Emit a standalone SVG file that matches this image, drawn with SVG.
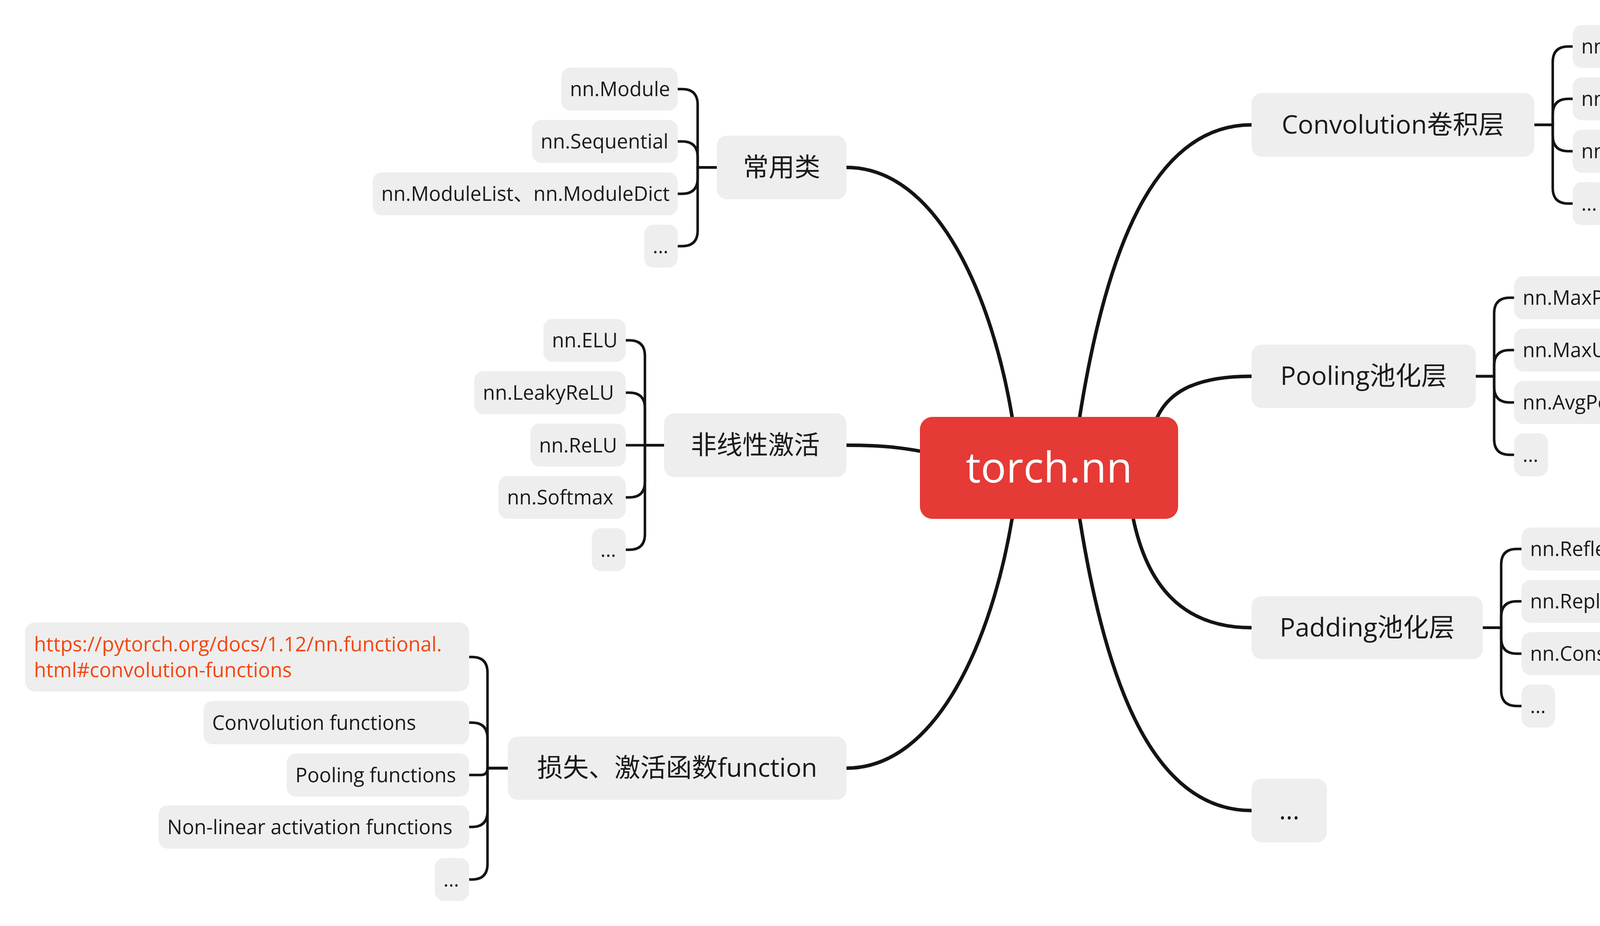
<svg xmlns="http://www.w3.org/2000/svg" width="5263" height="2370" viewBox="0 0 5263 2370">
<style>
text{font-family:"Open Sans","Noto Sans CJK SC","Noto Sans",sans-serif;fill:#1a1a1a}
.leaf rect,.main rect{fill:#eeeeee}
.leaf text{font-size:51px}
.main text{font-size:66px;text-anchor:middle}
.center rect{fill:#e53a36}
.center text{font-size:108px;fill:#ffffff;text-anchor:middle}
.link text{fill:#f4450f}
#connectors path{fill:none;stroke:#141414;stroke-linejoin:round}
#connectors .m{stroke-width:9}
#connectors .s{stroke-width:6.5}
</style>
<rect width="5263" height="2370" fill="#ffffff"/>
<g id="connectors">
<path class="m" d="M2167 428.5C2400 428.5 2540 760 2591 1067L2605 1150"/>
<path class="m" d="M2167 1139.5C2260 1139.5 2320 1145 2420 1168"/>
<path class="m" d="M2167 1966C2400 1966 2540 1634 2591 1327L2605 1250"/>
<path class="m" d="M3204 319.5C2950 319.5 2830 650 2764 1067L2755 1150"/>
<path class="m" d="M3204 963C3050 963 2990 1010 2963 1067L2940 1120"/>
<path class="m" d="M3204 1606.5C3020 1606.5 2935 1490 2901 1327L2890 1270"/>
<path class="m" d="M3204 2074.5C2950 2074.5 2830 1744 2764 1327L2755 1250"/>
<path class="s" d="M1835 428.5H1786V268Q1786 228 1746 228H1735"/>
<path class="s" d="M1835 428.5H1786V402Q1786 362 1746 362H1735"/>
<path class="s" d="M1835 428.5H1786V456Q1786 496 1746 496H1735"/>
<path class="s" d="M1835 428.5H1786V590Q1786 630 1746 630H1735"/>
<path class="s" d="M1700 1139.5H1651V911Q1651 871 1611 871H1602"/>
<path class="s" d="M1700 1139.5H1651V1045Q1651 1005 1611 1005H1602"/>
<path class="s" d="M1700 1139.5H1602"/>
<path class="s" d="M1700 1139.5H1651V1233Q1651 1273 1611 1273H1602"/>
<path class="s" d="M1700 1139.5H1651V1367Q1651 1407 1611 1407H1602"/>
<path class="s" d="M1300 1966H1248V1721.5Q1248 1681.5 1208 1681.5H1201"/>
<path class="s" d="M1300 1966H1248V1889.5Q1248 1849.5 1208 1849.5H1201"/>
<path class="s" d="M1300 1966H1248Q1248 1983.5 1230.5 1983.5H1201"/>
<path class="s" d="M1300 1966H1248V2076.5Q1248 2116.5 1208 2116.5H1201"/>
<path class="s" d="M1300 1966H1248V2211Q1248 2251 1208 2251H1201"/>
<path class="s" d="M3928 319.5H3975V159Q3975 119 4015 119H4026"/>
<path class="s" d="M3928 319.5H3975V293Q3975 253 4015 253H4026"/>
<path class="s" d="M3928 319.5H3975V347Q3975 387 4015 387H4026"/>
<path class="s" d="M3928 319.5H3975V481Q3975 521 4015 521H4026"/>
<path class="s" d="M3778 963H3825V802Q3825 762 3865 762H3876"/>
<path class="s" d="M3778 963H3825V936Q3825 896 3865 896H3876"/>
<path class="s" d="M3778 963H3825V990Q3825 1030 3865 1030H3876"/>
<path class="s" d="M3778 963H3825V1124Q3825 1164 3865 1164H3876"/>
<path class="s" d="M3796 1606.5H3843V1445Q3843 1405 3883 1405H3895"/>
<path class="s" d="M3796 1606.5H3843V1579Q3843 1539 3883 1539H3895"/>
<path class="s" d="M3796 1606.5H3843V1633Q3843 1673 3883 1673H3895"/>
<path class="s" d="M3796 1606.5H3843V1767Q3843 1807 3883 1807H3895"/>
</g>
<g id="root" class="center"><rect x="2355" y="1067" width="661" height="261" rx="32"/><text x="2685.5" y="1235">torch.nn</text></g>
<g id="m_common" class="main"><rect x="1835" y="347" width="332" height="163" rx="26"/><text x="2001" y="450.5">常用类</text></g>
<g id="m_act" class="main"><rect x="1700" y="1058" width="467" height="163" rx="26"/><text x="1933.5" y="1161.5">非线性激活</text></g>
<g id="m_func" class="main"><rect x="1300" y="1885" width="867" height="162" rx="26"/><text x="1733.5" y="1988">损失、激活函数function</text></g>
<g id="m_conv" class="main"><rect x="3204" y="238" width="724" height="163" rx="26"/><text x="3566" y="341.5">Convolution卷积层</text></g>
<g id="m_pool" class="main"><rect x="3204" y="882" width="574" height="162" rx="26"/><text x="3491" y="985">Pooling池化层</text></g>
<g id="m_pad" class="main"><rect x="3204" y="1526" width="592" height="161" rx="26"/><text x="3500" y="1628.5">Padding池化层</text></g>
<g id="m_more" class="main"><rect x="3204" y="1993" width="193" height="163" rx="26"/><text x="3300.5" y="2096.5">...</text></g>
<g id="l_module" class="leaf"><rect x="1437" y="173" width="298" height="110" rx="24"/><text x="1459" y="246">nn.Module</text></g>
<g id="l_seq" class="leaf"><rect x="1362" y="307" width="373" height="110" rx="24"/><text x="1384" y="380">nn.Sequential</text></g>
<g id="l_mlist" class="leaf"><rect x="954" y="441" width="781" height="110" rx="24"/><text x="976" y="514">nn.ModuleList、nn.ModuleDict</text></g>
<g id="l_common_more" class="leaf"><rect x="1649" y="575" width="86" height="110" rx="24"/><text x="1671" y="648">...</text></g>
<g id="l_elu" class="leaf"><rect x="1391" y="816" width="211" height="110" rx="24"/><text x="1413" y="889">nn.ELU</text></g>
<g id="l_leaky" class="leaf"><rect x="1214" y="950" width="388" height="110" rx="24"/><text x="1236" y="1023">nn.LeakyReLU</text></g>
<g id="l_relu" class="leaf"><rect x="1358" y="1084" width="244" height="110" rx="24"/><text x="1380" y="1157.5">nn.ReLU</text></g>
<g id="l_softmax" class="leaf"><rect x="1276" y="1218" width="326" height="110" rx="24"/><text x="1298" y="1291">nn.Softmax</text></g>
<g id="l_act_more" class="leaf"><rect x="1515" y="1352" width="87" height="110" rx="24"/><text x="1537" y="1425">...</text></g>
<g id="l_url" class="leaf link"><rect x="64" y="1593" width="1137" height="177" rx="26"/><text x="87" y="1667">https://pytorch.org/docs/1.12/nn.functional.</text><text x="87" y="1733">html#convolution-functions</text></g>
<g id="l_convf" class="leaf"><rect x="521" y="1794" width="680" height="111" rx="24"/><text x="543" y="1867.5">Convolution functions</text></g>
<g id="l_poolf" class="leaf"><rect x="734" y="1928" width="467" height="111" rx="24"/><text x="756" y="2001.5">Pooling functions</text></g>
<g id="l_nonlin" class="leaf"><rect x="406" y="2061" width="795" height="111" rx="24"/><text x="428" y="2134.5">Non-linear activation functions</text></g>
<g id="l_func_more" class="leaf"><rect x="1113" y="2196" width="88" height="110" rx="24"/><text x="1135" y="2269">...</text></g>
<g id="l_conv1" class="leaf"><rect x="4026" y="64" width="654" height="110" rx="24"/><text x="4048" y="137">nn.Conv1d、nn.Conv2d...</text></g>
<g id="l_convt" class="leaf"><rect x="4026" y="198" width="1172" height="110" rx="24"/><text x="4048" y="271">nn.ConvTranspose1d、nn.ConvTranspose2d...</text></g>
<g id="l_lazy" class="leaf"><rect x="4026" y="332" width="930" height="110" rx="24"/><text x="4048" y="405">nn.LazyConv1d、nn.LazyConv2d...</text></g>
<g id="l_conv_more" class="leaf"><rect x="4026" y="466" width="85" height="110" rx="24"/><text x="4048" y="539">...</text></g>
<g id="l_maxpool" class="leaf"><rect x="3876" y="707" width="820" height="110" rx="24"/><text x="3898" y="780">nn.MaxPool1d，nn.MaxPool2d...</text></g>
<g id="l_maxunpool" class="leaf"><rect x="3876" y="841" width="953" height="110" rx="24"/><text x="3898" y="914">nn.MaxUnpool1d、nn.MaxUnpool2d...</text></g>
<g id="l_avgpool" class="leaf"><rect x="3876" y="975" width="802" height="110" rx="24"/><text x="3898" y="1048">nn.AvgPool1d、nn.AvgPool2d...</text></g>
<g id="l_pool_more" class="leaf"><rect x="3876" y="1109" width="87" height="110" rx="24"/><text x="3898" y="1182">...</text></g>
<g id="l_reflect" class="leaf"><rect x="3895" y="1350" width="1075" height="110" rx="24"/><text x="3917" y="1423">nn.ReflectionPad1d、nn.ReflectionPad2d...</text></g>
<g id="l_replic" class="leaf"><rect x="3895" y="1484" width="1119" height="110" rx="24"/><text x="3917" y="1557">nn.ReplicationPad1d、nn.ReplicationPad2d...</text></g>
<g id="l_const" class="leaf"><rect x="3895" y="1618" width="1015" height="110" rx="24"/><text x="3917" y="1691">nn.ConstantPad1d、nn.ConstantPad2d...</text></g>
<g id="l_pad_more" class="leaf"><rect x="3895" y="1752" width="86" height="110" rx="24"/><text x="3917" y="1825">...</text></g>
</svg>
